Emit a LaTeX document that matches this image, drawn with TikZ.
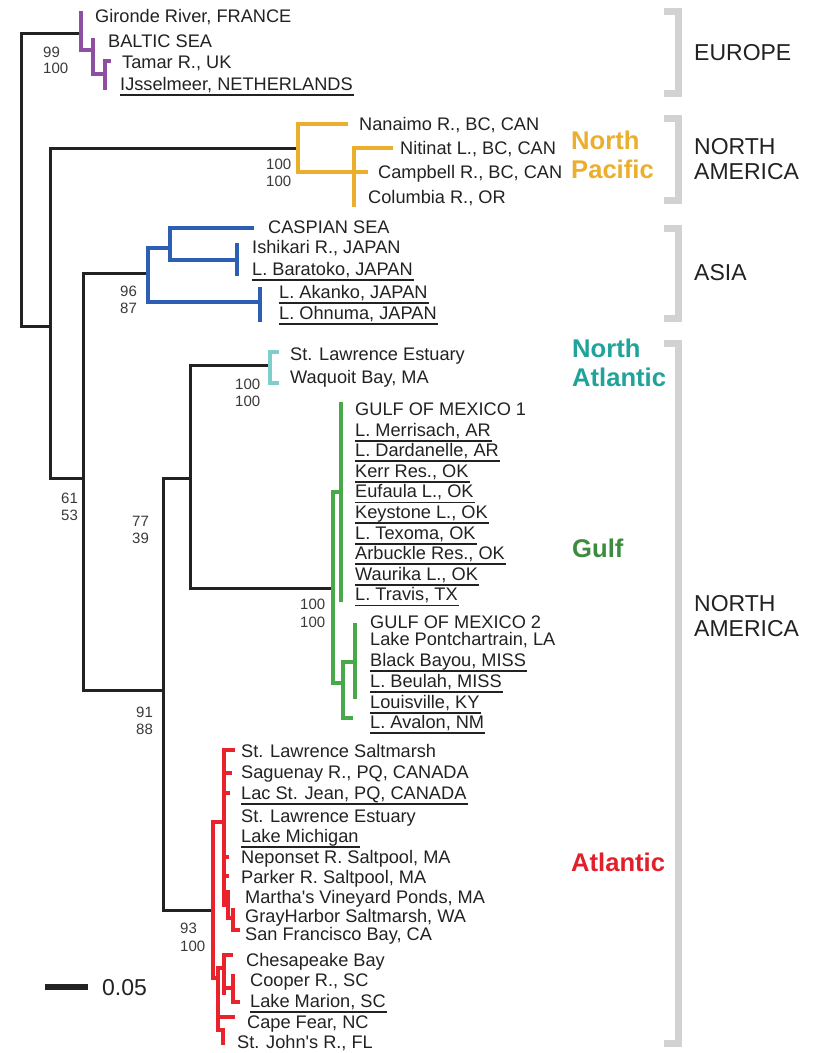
\documentclass[tikz,border=0pt]{standalone}
\usepackage{fontspec}
\setmainfont{Liberation Sans}
\definecolor{eur}{HTML}{8E4FA3}
\definecolor{npac}{HTML}{EBAE2D}
\definecolor{asiac}{HTML}{2C5FB3}
\definecolor{natl}{HTML}{7ECECA}
\definecolor{natltxt}{HTML}{1FA39A}
\definecolor{gulfc}{HTML}{49A84A}
\definecolor{gulftxt}{HTML}{3B8C3F}
\definecolor{atl}{HTML}{E8232B}
\definecolor{atltxt}{HTML}{E0212C}
\definecolor{brk}{HTML}{D2D2D2}
\definecolor{ink}{HTML}{222222}
\definecolor{supc}{HTML}{3A3A3A}
\tikzset{
  blk/.style={draw=ink, line width=3pt, line join=miter, line cap=rect},
  clade/.style={line width=4pt, line join=miter, line cap=rect},
  eurl/.style={clade, draw=eur},
  npl/.style={clade, draw=npac},
  asl/.style={clade, draw=asiac},
  nal/.style={clade, draw=natl},
  gul/.style={clade, draw=gulfc},
  atlline/.style={clade, draw=atl},
  leaf/.style={anchor=west, inner sep=0pt, text height=13pt, text depth=0pt,
    font=\fontsize{18.2}{20}\selectfont, text=ink},
  ulline/.style={draw=ink, line width=1.8pt},
  ul/.style={append after command={([yshift=-4.5pt]\tikzlastnode.base west) edge[ulline] ([yshift=-4.5pt,xshift=1pt]\tikzlastnode.base east)}},
  supp/.style={anchor=west, inner sep=0pt, text height=10.7pt, text depth=0pt,
    font=\fontsize{15}{17}\selectfont, text=supc},
  region/.style={anchor=west, inner sep=0pt, align=left,
    font=\fontsize{23}{24.5}\selectfont, text=ink},
  cladelab/.style={anchor=west, inner sep=0pt, align=left,
    font=\bfseries\fontsize{25.6}{29}\selectfont},
  bracket/.style={draw=brk, line width=7pt, line join=miter},
}
\begin{document}
\begin{tikzpicture}[x=1pt, y=-1pt]
\fill[white] (0,0) rectangle (812,1053);
\useasboundingbox (0,0) rectangle (812,1053);

% ---------- backbone coordinates ----------
\coordinate (R) at (21,180);
\coordinate (E0) at (81,33);
\coordinate (N1) at (50,326);
\coordinate (NP0) at (298,148);
\coordinate (N2) at (83,478);
\coordinate (AS0) at (148,273);
\coordinate (N3) at (163,690);
\coordinate (N4) at (190,478);
\coordinate (AT0) at (213,910);
\coordinate (NA0) at (270,365);
\coordinate (G0) at (333,588);

\draw[blk] (R) |- (E0);
\draw[blk] (R) |- (N1);
\draw[blk] (N1) |- (NP0);
\draw[blk] (N1) |- (N2);
\draw[blk] (N2) |- (AS0);
\draw[blk] (N2) |- (N3);
\draw[blk] (N3) |- (N4);
\draw[blk] (N3) |- (AT0);
\draw[blk] (N4) |- (NA0);
\draw[blk] (N4) |- (G0);

% ---------- Europe ----------
\coordinate (gir) at (81,13);
\coordinate (E1) at (93,50);
\coordinate (bal) at (93,40);
\coordinate (E2) at (105,74);
\coordinate (tamt) at (109,61);
\coordinate (ijs) at (105,88);
\draw[eurl] (gir) |- (E1);
\draw[eurl] (bal) |- (E2);
\draw[eurl] (tamt) -| (ijs);

% ---------- North Pacific ----------
\coordinate (nan) at (346,124);
\coordinate (NP1) at (354,172);
\coordinate (nit) at (391,148);
\coordinate (col) at (354,205);
\coordinate (camp) at (366,172);
\draw[npl] (NP0) |- (nan);
\draw[npl] (NP0) |- (NP1);
\draw[npl] (nit) -| (col);
\draw[npl] (NP1) -- (camp);

% ---------- Asia ----------
\coordinate (AS1) at (170,248);
\coordinate (AS2) at (260,302);
\coordinate (casp) at (252,228);
\coordinate (AS3) at (237,260);
\coordinate (ish) at (237,245);
\coordinate (bar) at (237,274);
\coordinate (aka) at (260,289);
\coordinate (ohn) at (260,320);
\draw[asl] (AS0) |- (AS1);
\draw[asl] (AS0) |- (AS2);
\draw[asl] (AS1) |- (casp);
\draw[asl] (AS1) |- (AS3);
\draw[asl] (ish) -- (bar);
\draw[asl] (aka) -- (ohn);

% ---------- North Atlantic ----------
\coordinate (stl) at (277,352);
\coordinate (waq) at (277,383);
\draw[nal] (stl) -| (NA0) |- (waq);

% ---------- Gulf ----------
\coordinate (G1) at (341,492);
\coordinate (g1t) at (341,404);
\coordinate (g1b) at (341,600);
\coordinate (G2) at (343,683);
\coordinate (G3) at (355,662);
\coordinate (ava) at (351,718);
\coordinate (g3t) at (355,625);
\coordinate (g3b) at (355,697);
\draw[gul] (G0) |- (G1);
\draw[gul] (G0) |- (G2);
\draw[gul] (g1t) -- (g1b);
\draw[gul] (G2) |- (G3);
\draw[gul] (G2) |- (ava);
\draw[gul] (g3t) -- (g3b);

% ---------- Atlantic ----------
\coordinate (AT1) at (224,822);
\coordinate (AT2) at (218,978);
\coordinate (slsm) at (233,750);
\coordinate (AT3) at (228,905);
\draw[atlline] (AT0) |- (AT1);
\draw[atlline] (AT0) |- (AT2);
\draw[atlline] (AT1) |- (slsm);
\draw[atlline] (AT1) |- (AT3);
\coordinate (sag) at (224,773); \coordinate (sagt) at (230,773);
\coordinate (lac) at (224,793); \coordinate (lact) at (228,793);
\coordinate (nep) at (224,857); \coordinate (nept) at (227,857);
\coordinate (par) at (224,876); \coordinate (part) at (227,876);
\draw[atlline] (sag) -- (sagt);
\draw[atlline] (lac) -- (lact);
\draw[atlline] (nep) -- (nept);
\draw[atlline] (par) -- (part);
\coordinate (mv) at (228,892);
\coordinate (AT4) at (233,918);
\coordinate (gh) at (233,910);
\coordinate (sf) at (238,930);
\draw[atlline] (mv) |- (AT4);
\draw[atlline] (gh) |- (sf);
\coordinate (AT5) at (224,968);
\coordinate (ches) at (231,955);
\coordinate (c5b) at (224,993);
\coordinate (c7j) at (224,988);
\coordinate (AT7) at (233,988);
\coordinate (coop) at (233,976);
\coordinate (mar) at (238,1002);
\coordinate (cf) at (233,1017);
\coordinate (AT6) at (223,1030);
\coordinate (sj) at (223,1043);
\draw[atlline] (AT2) |- (AT5);
\draw[atlline] (ches) -| (c5b);
\draw[atlline] (c7j) -- (AT7);
\draw[atlline] (coop) |- (mar);
\draw[atlline] (AT2) |- (cf);
\draw[atlline] (AT2) |- (AT6) -- (sj);

% ---------- leaf labels ----------
\node[leaf] (l01) at (95,16) {Gironde River, FRANCE};
\node[leaf] (l02) at (108,41) {BALTIC SEA};
\node[leaf] (l03) at (122,62) {Tamar R., UK};
\node[leaf, ul] (l04) at (120,84) {IJsselmeer, NETHERLANDS};

\node[leaf] (l05) at (359,124) {Nanaimo R., BC, CAN};
\node[leaf] (l06) at (400,148) {Nitinat L., BC, CAN};
\node[leaf] (l07) at (378,172) {Campbell R., BC, CAN};
\node[leaf] (l08) at (368,197) {Columbia R., OR};

\node[leaf] (l09) at (268,227) {CASPIAN SEA};
\node[leaf] (l10) at (252,247) {Ishikari R., JAPAN};
\node[leaf, ul] (l11) at (252,269) {L. Baratoko, JAPAN};
\node[leaf, ul] (l12) at (279,292) {L. Akanko, JAPAN};
\node[leaf, ul] (l13) at (279,313) {L. Ohnuma, JAPAN};

\node[leaf] (l14) at (290,354) {St. Lawrence Estuary};
\node[leaf] (l15) at (290,377) {Waquoit Bay, MA};

\node[leaf] (l16) at (355,409.0) {GULF OF MEXICO 1};
\node[leaf, ul] (l17) at (355,429.6) {L. Merrisach, AR};
\node[leaf, ul] (l18) at (355,450.2) {L. Dardanelle, AR};
\node[leaf, ul] (l19) at (355,470.8) {Kerr Res., OK};
\node[leaf, ul] (l20) at (355,491.4) {Eufaula L., OK};
\node[leaf, ul] (l21) at (355,512.0) {Keystone L., OK};
\node[leaf, ul] (l22) at (355,532.6) {L. Texoma, OK};
\node[leaf, ul] (l23) at (355,553.2) {Arbuckle Res., OK};
\node[leaf, ul] (l24) at (355,573.8) {Waurika L., OK};
\node[leaf, ul] (l25) at (355,594.4) {L. Travis, TX};

\node[leaf] (l26) at (370,622) {GULF OF MEXICO 2};
\node[leaf] (l27) at (370,639) {Lake Pontchartrain, LA};
\node[leaf, ul] (l28) at (370,660) {Black Bayou, MISS};
\node[leaf, ul] (l29) at (370,681) {L. Beulah, MISS};
\node[leaf, ul] (l30) at (370,702) {Louisville, KY};
\node[leaf, ul] (l31) at (370,722) {L. Avalon, NM};

\node[leaf] (l32) at (241,751) {St. Lawrence Saltmarsh};
\node[leaf] (l33) at (241,772) {Saguenay R., PQ, CANADA};
\node[leaf, ul] (l34) at (241,793) {Lac St. Jean, PQ, CANADA};
\node[leaf] (l35) at (241,816) {St. Lawrence Estuary};
\node[leaf, ul] (l36) at (241,836) {Lake Michigan};
\node[leaf] (l37) at (241,857) {Neponset R. Saltpool, MA};
\node[leaf] (l38) at (241,877) {Parker R. Saltpool, MA};
\node[leaf] (l39) at (245,897) {Martha\textquotesingle s Vineyard Ponds, MA};
\node[leaf] (l40) at (245,916) {GrayHarbor Saltmarsh, WA};
\node[leaf] (l41) at (245,934) {San Francisco Bay, CA};
\node[leaf] (l42) at (246,960) {Chesapeake Bay};
\node[leaf] (l43) at (250,980) {Cooper R., SC};
\node[leaf, ul] (l44) at (250,1001) {Lake Marion, SC};
\node[leaf] (l45) at (247,1022) {Cape Fear, NC};
\node[leaf] (l46) at (237,1042) {St. John\textquotesingle s R., FL};

% ---------- support values ----------
\node[supp] (s01) at (43,52) {99};
\node[supp] (s02) at (43,68) {100};
\node[supp] (s03) at (61,498) {61};
\node[supp] (s04) at (61,515) {53};
\node[supp] (s05) at (120,291) {96};
\node[supp] (s06) at (120,308) {87};
\node[supp] (s07) at (132,521) {77};
\node[supp] (s08) at (132,538) {39};
\node[supp] (s09) at (136,712) {91};
\node[supp] (s10) at (136,729) {88};
\node[supp] (s11) at (266,164) {100};
\node[supp] (s12) at (266,181) {100};
\node[supp] (s13) at (235,384) {100};
\node[supp] (s14) at (235,401) {100};
\node[supp] (s15) at (300,604) {100};
\node[supp] (s16) at (300,622) {100};
\node[supp] (s17) at (180,928) {93};
\node[supp] (s18) at (180,946) {100};

% ---------- scale bar ----------
\coordinate (sb1) at (45,987);
\coordinate (sb2) at (88,987);
\draw[draw=ink, line width=6pt] (sb1) -- (sb2);
\node[anchor=west, inner sep=0pt, text height=16.5pt, text depth=0pt,
  font=\fontsize{23}{25}\selectfont, text=ink] (sbl) at (102,987) {0.05};

% ---------- clade labels ----------
\node[cladelab, text=npac] (c1) at (571,155) {North\\Pacific};
\node[cladelab, text=natltxt] (c2) at (572,363) {North\\Atlantic};
\node[cladelab, text=gulftxt] (c3) at (572,548) {Gulf};
\node[cladelab, text=atltxt] (c4) at (571,862) {Atlantic};

% ---------- region brackets ----------
\draw[bracket] (664,11) -- (678,11) -- (678,93) -- (664,93);
\draw[bracket] (664,118) -- (678,118) -- (678,200) -- (664,200);
\draw[bracket] (664,228) -- (678,228) -- (678,318) -- (664,318);
\draw[bracket] (664,343) -- (678,343) -- (678,1043) -- (664,1043);

\node[region] (r1) at (694,53) {EUROPE};
\node[region] (r2) at (694,159) {NORTH\\AMERICA};
\node[region] (r3) at (694,273) {ASIA};
\node[region] (r4) at (694,616) {NORTH\\AMERICA};
\end{tikzpicture}
\end{document}
